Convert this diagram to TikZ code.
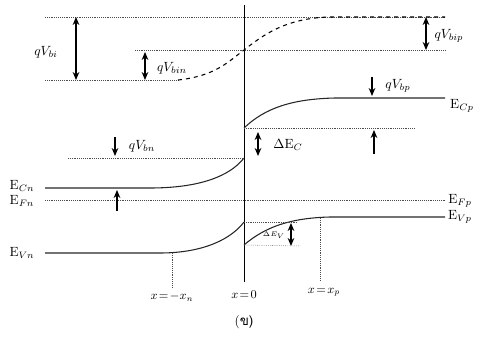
\documentclass[tikz,border=0pt]{standalone}
\usepackage{amsmath, amssymb}
\usepackage{fontspec}
\newfontfamily\thaifont[Script=Thai]{Loma}
\usetikzlibrary{arrows.meta}
\tikzset{
  band/.style={thick, black!85},
  refline/.style={densely dotted, black!70},
  dimarrow/.style={thick, {Stealth[length=6pt,width=5pt]}-{Stealth[length=6pt,width=5pt]}},
  onearrow/.style={thick, -{Stealth[length=6pt,width=5pt]}},
  lbl/.style={inner sep=1pt, font=\normalsize}
}

\begin{document}
\begin{tikzpicture}[x=0.75pt, y=-0.75pt]
        \useasboundingbox (0,0) rectangle (479,357);
        % junction
        \coordinate (jtop) at (244,5);
        \coordinate (jbot) at (244,282);
        \draw[semithick] (jtop) -- (jbot);
        \node[lbl, font=\small] (xzero) at (244,295) {$x\!=\!0$};

        % vacuum levels
        \coordinate (vtl) at (45,17);   \coordinate (vtr) at (445,17);
        \coordinate (vbl) at (45,80);   \coordinate (vbn) at (178,80);
        \coordinate (vml) at (135,50);  \coordinate (vmr) at (445,50);
        \draw[refline] (vtl) -- (vtr);
        \draw[refline] (vbl) -- (vbn);
        \draw[refline] (vml) -- (vmr);
        \draw[thick, dashed] (vbn) .. controls (215,76) and (228,62) .. (244,50)
              .. controls (262,36) and (285,18) .. (330,17) -- (vtr);
        \coordinate (a1t) at (76,17);   \coordinate (a1b) at (76,80);
        \draw[dimarrow] (a1t) -- (a1b);
        \node[lbl] (qvbi) at (46,52) {$qV_{bi}$};
        \coordinate (a2t) at (145,52);  \coordinate (a2b) at (145,80);
        \draw[dimarrow] (a2t) -- (a2b);
        \node[lbl] (qvbin) at (172,68) {$qV_{bin}$};
        \coordinate (a3t) at (426,17);  \coordinate (a3b) at (426,50);
        \draw[dimarrow] (a3t) -- (a3b);
        \node[lbl] (qvbip) at (449,36) {$qV_{bip}$};

        % conduction band
        \coordinate (cnl) at (45,188);  \coordinate (cnj) at (244,158);
        \coordinate (cpj) at (244,128); \coordinate (cpr) at (445,98);
        \draw[band] (cnl) -- (150,188) .. controls (200,188) and (230,176) .. (cnj);
        \draw[band] (cpj) .. controls (265,108) and (292,99) .. (335,98) -- (cpr);
        \node[lbl] (ecn) at (22,186) {E$_{Cn}$};
        \node[lbl] (ecp) at (462,106) {E$_{Cp}$};
        \coordinate (cdl) at (68,158);  \coordinate (cdr) at (415,128);
        \draw[refline] (cdl) -- (cnj);
        \draw[refline] (cpj) -- (cdr);
        \coordinate (a4t) at (115,137); \coordinate (a4b) at (115,156);
        \draw[onearrow] (a4t) -- (a4b);
        \node[lbl] (qvbn) at (142,146) {$qV_{bn}$};
        \coordinate (a5t) at (372,77);  \coordinate (a5b) at (372,96);
        \draw[onearrow] (a5t) -- (a5b);
        \node[lbl] (qvbp) at (398,86) {$qV_{bp}$};
        \coordinate (a6t) at (258,132); \coordinate (a6b) at (258,156);
        \draw[dimarrow] (a6t) -- (a6b);
        \node[lbl] (dec) at (288,145) {$\Delta$E$_C$};
        \coordinate (a7b) at (374,154); \coordinate (a7t) at (374,130);
        \draw[onearrow] (a7b) -- (a7t);

        % Fermi level
        \coordinate (efl) at (45,200);  \coordinate (efr) at (445,200);
        \draw[refline] (efl) -- (efr);
        \node[lbl] (efn) at (22,201) {E$_{Fn}$};
        \node[lbl] (efp) at (460,201) {E$_{Fp}$};
        \coordinate (a8b) at (117,211); \coordinate (a8t) at (117,190);
        \draw[onearrow] (a8b) -- (a8t);

        % valence band
        \coordinate (vnl) at (45,253);  \coordinate (vnj) at (244,222);
        \coordinate (vpj) at (244,245); \coordinate (vpr) at (445,217);
        \draw[band] (vnl) -- (160,253) .. controls (205,253) and (232,238) .. (vnj);
        \draw[band] (vpj) .. controls (265,227) and (290,218) .. (330,217) -- (vpr);
        \node[lbl] (evn) at (22,253) {E$_{Vn}$};
        \node[lbl] (evp) at (460,217) {E$_{Vp}$};
        \coordinate (vdr) at (298,222); \coordinate (vlr) at (300,246);
        \draw[refline] (vnj) -- (vdr);
        \draw[refline] (vpj) -- (vlr);
        \coordinate (a9t) at (291,223); \coordinate (a9b) at (291,246);
        \draw[dimarrow] (a9t) -- (a9b);
        \node[lbl, font=\tiny] (dev) at (274,235) {$\Delta E_V$};

        % depletion edges
        \coordinate (xnt) at (172,253); \coordinate (xnb) at (172,287);
        \draw[refline] (xnt) -- (xnb);
        \node[lbl, font=\small] (xn) at (172,297) {$x\!=\!-x_n$};
        \coordinate (xpt) at (320,218); \coordinate (xpb) at (320,280);
        \draw[refline] (xpt) -- (xpb);
        \node[lbl, font=\small] (xp) at (324,292) {$x\!=\!x_p$};

        \node[lbl] (cap) at (244,322) {(\thaifont ข)};
      \end{tikzpicture}
\end{document}
